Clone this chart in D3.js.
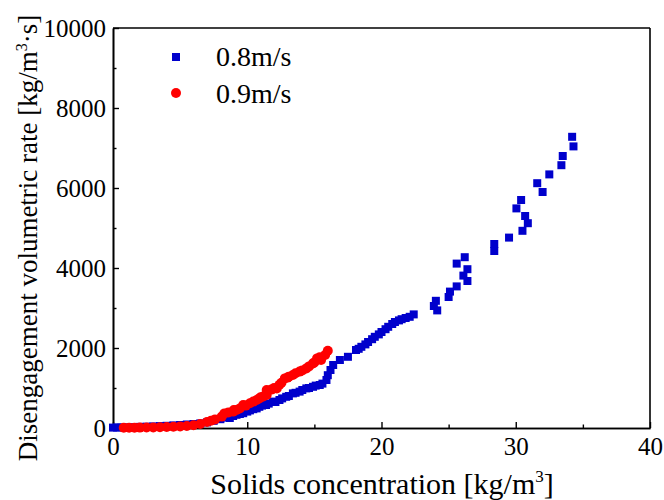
<!DOCTYPE html>
<html>
<head>
<meta charset="utf-8">
<script src="https://cdn.jsdelivr.net/npm/d3@7"></script>
<style>
  body { margin: 0; background: #fff; }
  text { font-family: "Liberation Serif", "Times New Roman", serif; fill: #000; }
</style>
</head>
<body>
<script>
// 0.8 m/s series (solids concentration, disengagement rate)
const blueX = [0.0, 0.3, 0.6, 1.0, 1.5, 2.0, 2.5, 3.0, 3.5, 4.0, 4.5, 5.0, 5.5, 6.0, 6.5, 7.0, 7.5, 8.0, 8.5, 8.7, 8.95,
  9.2, 9.45, 9.7, 10.0, 10.2, 10.45, 10.7, 10.9, 11.1, 11.4, 11.6, 11.9, 12.1, 12.4, 12.6, 12.9, 13.1, 13.4, 13.6, 13.9,
  14.1, 14.4, 14.6, 14.9, 15.1, 15.4, 15.6, 15.9, 16.0, 16.2, 16.4, 16.9, 17.5, 18.1, 18.3, 18.5, 18.8, 19.0, 19.3, 19.5,
  19.8, 20.0, 20.3, 20.5, 20.8, 21.0, 21.3, 21.5, 21.8, 22.1, 22.4, 23.9, 24.05, 24.15, 25.0, 25.1, 25.6, 26.4, 26.1, 26.4,
  25.6, 26.2, 28.4, 28.4, 29.5, 30.5, 30.9, 30.7, 30.05, 30.4, 32.0, 31.6, 32.5, 33.4, 33.5, 34.3, 34.2];
const blueY = [10, 12, 15, 18, 22, 28, 33, 40, 48, 55, 65, 75, 88, 100, 115, 140, 180, 220, 260, 250, 300,
  330, 350, 370, 410, 440, 470, 490, 530, 560, 575, 610, 660, 650, 700, 740, 780, 800, 865, 880, 910,
  950, 990, 1000, 1030, 1060, 1075, 1110, 1200, 1320, 1450, 1575, 1700, 1780, 1950, 1980, 2030, 2090, 2150, 2220, 2280,
  2340, 2400, 2470, 2530, 2600, 2650, 2690, 2720, 2750, 2780, 2840, 3050, 3180, 2940, 3275, 3410, 3540, 3675, 3810, 3970,
  4110, 4270, 4425, 4600, 4760, 4930, 5120, 5300, 5490, 5700, 5900, 6120, 6340, 6570, 6800, 7040, 7280];

// 0.9 m/s series
const redX = [0.8, 1.2, 1.6, 2.0, 2.5, 3.0, 3.5, 4.0, 4.5, 5.0, 5.5, 6.0, 6.5, 7.0, 7.3, 7.6, 8.1, 8.3, 8.6, 8.95, 9.0,
  9.2, 9.45, 9.7, 9.9, 10.2, 10.45, 10.7, 10.9, 11.0, 11.2, 11.45, 11.45, 11.8, 12.0, 12.2, 12.4, 12.55, 12.8, 13.0, 13.1,
  13.4, 13.6, 13.9, 14.1, 14.4, 14.6, 14.9, 15.0, 15.2, 15.4, 15.5, 15.8, 16.0];
const redY = [5, 6, 8, 10, 12, 15, 20, 25, 32, 40, 50, 70, 100, 150, 180, 215, 285, 365, 390, 410, 450,
  450, 490, 575, 560, 620, 660, 700, 740, 770, 790, 825, 950, 960, 1000, 990, 1080, 1130, 1240, 1260, 1280,
  1325, 1370, 1410, 1440, 1490, 1540, 1615, 1640, 1740, 1770, 1700, 1825, 1930];

const xTicks = [0, 10, 20, 30, 40];
const xMinor = [5, 15, 25, 35];
const yTicks = [0, 2000, 4000, 6000, 8000, 10000];
const yMinor = [1000, 3000, 5000, 7000, 9000];
const seriesNames = ["0.8m/s", "0.9m/s"];

const font = '"Liberation Serif", "Times New Roman", serif';
const margin = { top: 28, right: 14, bottom: 72, left: 113 };
const width = 664 - margin.left - margin.right;
const height = 500 - margin.top - margin.bottom;

const svg = d3.select("body")
  .append("svg")
  .attr("width", 664)
  .attr("height", 500);

const g = svg.append("g")
  .attr("transform", `translate(${margin.left},${margin.top})`);

const x = d3.scaleLinear().domain([0, 40]).range([0, width]);
const y = d3.scaleLinear().domain([0, 10000]).range([height, 0]);

// axes (ticks point inward)
g.append("g")
  .attr("transform", `translate(0,${height})`)
  .call(d3.axisBottom(x).tickValues(xTicks).tickSizeInner(-6).tickSizeOuter(0).tickPadding(9).tickFormat(d3.format("d")));
g.append("g")
  .attr("transform", `translate(0,${height})`)
  .call(d3.axisBottom(x).tickValues(xMinor).tickSizeInner(-3.5).tickSizeOuter(0).tickFormat(""));

g.append("g")
  .call(d3.axisLeft(y).tickValues(yTicks).tickSizeInner(-6).tickSizeOuter(0).tickPadding(7).tickFormat(d3.format("d")));
g.append("g")
  .call(d3.axisLeft(y).tickValues(yMinor).tickSizeInner(-3.5).tickSizeOuter(0).tickFormat(""));

g.selectAll(".domain").attr("stroke", "#000").attr("stroke-width", 1.6);
g.selectAll(".tick line").attr("stroke", "#000").attr("stroke-width", 1.4);
g.selectAll(".tick text").style("font-size", "25px").style("font-family", font);

// top / right frame
g.append("line").attr("x1", 0).attr("x2", width).attr("y1", 0).attr("y2", 0)
  .attr("stroke", "#000").attr("stroke-width", 1.6);
g.append("line").attr("x1", width).attr("x2", width).attr("y1", 0).attr("y2", height)
  .attr("stroke", "#000").attr("stroke-width", 1.6);

// data
const blue = blueX.map((v, i) => ({ x: v, y: blueY[i] }));
const red = redX.map((v, i) => ({ x: v, y: redY[i] }));

g.selectAll("rect.blue")
  .data(blue)
  .enter()
  .append("rect")
  .attr("class", "blue")
  .attr("x", d => x(d.x) - 4)
  .attr("y", d => y(d.y) - 4)
  .attr("width", 8)
  .attr("height", 8)
  .attr("fill", "#0000CC");

g.selectAll("circle.red")
  .data(red)
  .enter()
  .append("circle")
  .attr("class", "red")
  .attr("cx", d => x(d.x))
  .attr("cy", d => y(d.y))
  .attr("r", 5)
  .attr("fill", "#FF0000");

// legend
svg.append("rect").attr("x", 172).attr("y", 53).attr("width", 8).attr("height", 8).attr("fill", "#0000CC");
svg.append("text").attr("x", 216).attr("y", 66).style("font-size", "28px").style("font-family", font).text(seriesNames[0]);
svg.append("circle").attr("cx", 176).attr("cy", 93).attr("r", 5).attr("fill", "#FF0000");
svg.append("text").attr("x", 216).attr("y", 103).style("font-size", "28px").style("font-family", font).text(seriesNames[1]);

// axis titles
const xt = svg.append("text")
  .attr("x", 382)
  .attr("y", 494)
  .attr("text-anchor", "middle")
  .style("font-family", font)
  .style("font-size", "30px");
xt.append("tspan").text("Solids concentration [kg/m");
xt.append("tspan").attr("dy", -12).style("font-size", "17px").text("3");
xt.append("tspan").attr("dy", 12).text("]");

const yt = svg.append("text")
  .attr("transform", "translate(37,238) rotate(-90)")
  .attr("text-anchor", "middle")
  .style("font-family", font)
  .style("font-size", "27px");
yt.append("tspan").text("Disengagement volumetric rate [kg/m");
yt.append("tspan").attr("dy", -10).style("font-size", "16px").text("3");
yt.append("tspan").attr("dy", 10).text("\u00B7s]");
</script>
</body>
</html>
